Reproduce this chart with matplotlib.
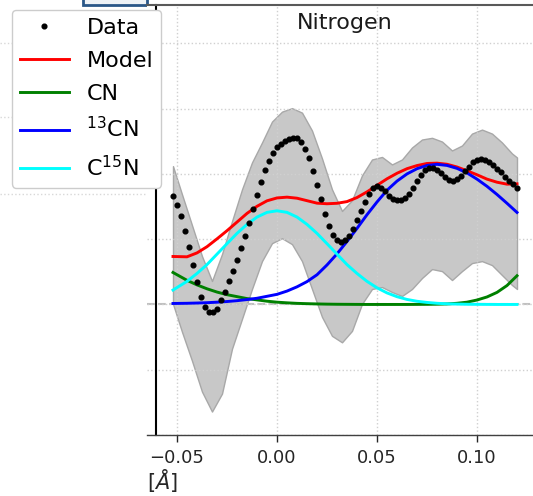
import numpy as np
import matplotlib
matplotlib.use("Agg")
import matplotlib.pyplot as plt
from matplotlib.patches import Rectangle
from matplotlib.lines import Line2D

# ---------------- data ----------------
# measured data points (regular sampling every 0.002 Å)
data_x = np.linspace(-0.052, 0.12, 87)
data_y = [1.661, 1.530, 1.356, 1.133, 0.873, 0.603, 0.348, 0.119, -0.034, -0.110,
          -0.119, -0.069, 0.064, 0.195, 0.359, 0.511, 0.684, 0.858, 1.050, 1.244,
          1.458, 1.672, 1.881, 2.058, 2.202, 2.324, 2.405, 2.461, 2.511, 2.534,
          2.557, 2.547, 2.492, 2.389, 2.237, 2.049, 1.829, 1.611, 1.392, 1.203,
          1.061, 0.980, 0.950, 0.980, 1.050, 1.163, 1.290, 1.427, 1.569, 1.698,
          1.789, 1.814, 1.789, 1.737, 1.661, 1.611, 1.595, 1.595, 1.631, 1.698,
          1.789, 1.896, 1.988, 2.058, 2.095, 2.095, 2.058, 2.008, 1.951, 1.911,
          1.896, 1.916, 1.966, 2.043, 2.110, 2.180, 2.217, 2.226, 2.217, 2.176,
          2.130, 2.079, 2.027, 1.957, 1.890, 1.840, 1.789]

# model curves
curve_x = [-0.052, -0.045, -0.040, -0.035, -0.030, -0.025, -0.020, -0.015, -0.010, -0.005,
           0.000, 0.005, 0.010, 0.015, 0.020, 0.025, 0.030, 0.035, 0.040, 0.045,
           0.050, 0.055, 0.060, 0.065, 0.070, 0.075, 0.080, 0.085, 0.090, 0.095,
           0.100, 0.105, 0.110, 0.115, 0.120]
model_y = [0.735, 0.730, 0.790, 0.885, 1.005, 1.130, 1.262, 1.395, 1.504, 1.588,
           1.632, 1.644, 1.628, 1.590, 1.552, 1.543, 1.550, 1.576, 1.638, 1.725,
           1.825, 1.925, 2.010, 2.080, 2.128, 2.160, 2.165, 2.148, 2.106, 2.048,
           1.987, 1.920, 1.873, 1.843, 1.848]
cn_y = [0.490, 0.370, 0.300, 0.240, 0.190, 0.150, 0.120, 0.090, 0.070, 0.050,
        0.035, 0.025, 0.017, 0.012, 0.008, 0.005, 0.003, 0.002, 0.001, 0.000,
        0.000, 0.000, 0.000, 0.000, 0.001, 0.002, 0.004, 0.008, 0.018, 0.035,
        0.068, 0.115, 0.185, 0.290, 0.440]
c13n_y = [0.015, 0.018, 0.022, 0.027, 0.035, 0.045, 0.058, 0.075, 0.095, 0.125,
          0.155, 0.205, 0.270, 0.350, 0.455, 0.605, 0.775, 0.965, 1.165, 1.375,
          1.570, 1.750, 1.890, 2.000, 2.080, 2.130, 2.147, 2.130, 2.085, 2.015,
          1.920, 1.810, 1.685, 1.550, 1.410]
cn15_y = [0.221, 0.354, 0.475, 0.611, 0.771, 0.931, 1.089, 1.227, 1.339, 1.411,
          1.435, 1.411, 1.339, 1.227, 1.089, 0.931, 0.771, 0.611, 0.475, 0.354,
          0.255, 0.177, 0.119, 0.077, 0.049, 0.031, 0.018, 0.010, 0.006, 0.003,
          0.002, 0.001, 0.000, 0.000, 0.000]

# uncertainty band
band_x = [-0.052, -0.0475, -0.0425, -0.0375, -0.0325, -0.0275, -0.0225, -0.0175, -0.0125, -0.0075,
          -0.0025, 0.0025, 0.0075, 0.0125, 0.0175, 0.0225, 0.0275, 0.0325, 0.0375, 0.0425,
          0.0475, 0.0525, 0.0575, 0.0625, 0.0675, 0.0725, 0.0775, 0.0825, 0.0875, 0.0925,
          0.0975, 0.1025, 0.1075, 0.1125, 0.1175, 0.12]
band_hi = [2.119, 1.687, 1.214, 0.740, 0.359, 0.771, 1.275, 1.763, 2.176, 2.481,
           2.802, 2.954, 3.008, 2.939, 2.664, 2.237, 1.763, 1.432, 1.595, 1.977,
           2.221, 2.260, 2.145, 2.221, 2.405, 2.527, 2.553, 2.496, 2.359, 2.435,
           2.618, 2.679, 2.618, 2.481, 2.313, 2.252]
band_lo = [0.008, -0.420, -0.863, -1.336, -1.641, -1.366, -0.679, -0.221, 0.237, 0.664,
           0.939, 1.015, 0.924, 0.664, 0.237, -0.191, -0.481, -0.580, -0.405, 0.008,
           0.237, 0.267, 0.191, 0.130, 0.237, 0.405, 0.542, 0.511, 0.374, 0.511,
           0.634, 0.664, 0.603, 0.450, 0.298, 0.237]

x_ticks = [-0.05, 0.00, 0.05, 0.10]
x_ticklabels = ["\u22120.05", "0.00", "0.05", "0.10"]
y_grid = [-2, -1, 0, 1, 2, 3, 4]
labels = ["Data", "Model", "CN", r"$^{13}$CN", r"C$^{15}$N"]
title = "Nitrogen"

# ---------------- figure ----------------
W, H = 533, 496
fig = plt.figure(figsize=(W / 100, H / 100), dpi=100)

ax_l, ax_r, ax_t, ax_b = 147, 534, 5, 435
ax = fig.add_axes([ax_l / W, 1 - ax_b / H, (ax_r - ax_l) / W, (ax_b - ax_t) / H])
ax.set_xlim(-0.065, 0.1285)
ax.set_ylim(-1.977, 4.588)

# background decorations from the composite screenshot
fig.add_artist(Rectangle((83 / W, 1 - 5 / H), (147 - 83) / W, 12 / H,
                         transform=fig.transFigure, facecolor="#eef2f6",
                         edgecolor="#2a5788", linewidth=2.0, zorder=0))
for yy in (42.7, 117, 194):
    fig.add_artist(Line2D([0, 150 / W], [1 - yy / H, 1 - yy / H],
                          transform=fig.transFigure, color="#d8d8d8",
                          linestyle=":", linewidth=1, zorder=0))

ax.fill_between(band_x, band_lo, band_hi, facecolor="#c8c8c8",
                edgecolor="#a8a8a8", linewidth=1.0, zorder=0.5)
ax.axhline(0, color="#c0c0c0", linestyle="--", linewidth=1.5, zorder=0.8)

h_data, = ax.plot(data_x, data_y, linestyle="none", marker="o", markersize=3.4,
                  color="black", zorder=3)
h_model, = ax.plot(curve_x, model_y, color="red", lw=2.1, zorder=2)
h_cn, = ax.plot(curve_x, cn_y, color="green", lw=2.1, zorder=2)
h_13, = ax.plot(curve_x, c13n_y, color="blue", lw=2.1, zorder=2)
h_15, = ax.plot(curve_x, cn15_y, color="cyan", lw=2.1, zorder=2)

ax.set_xticks(x_ticks)
ax.set_xticklabels(x_ticklabels)
ax.set_yticks(y_grid)
ax.tick_params(axis="y", length=0, labelleft=False)
ax.tick_params(axis="x", length=5, width=1, labelsize=13, colors="0.15", pad=5)
ax.grid(True, linestyle=":", color="#d0d0d0", linewidth=1)
ax.set_axisbelow("line")

ax.spines["right"].set_visible(False)
ax.spines["left"].set_position(("data", -0.0605))
ax.spines["left"].set_color("black")
ax.spines["left"].set_linewidth(1.5)
ax.spines["top"].set_color("0.35")
ax.spines["top"].set_linewidth(1.5)
ax.spines["bottom"].set_color("0.25")
ax.spines["bottom"].set_linewidth(1.0)

ax.set_xlabel(r"$[Å]$", fontsize=15, loc="left", labelpad=0, color="0.15")

ax.text((345 - ax_l) / (ax_r - ax_l), (ax_b - 23) / (ax_b - ax_t), title,
        transform=ax.transAxes, ha="center", va="center", fontsize=16, color="0.1")

leg = fig.legend([h_data, h_model, h_cn, h_13, h_15], labels,
                 loc="upper left", bbox_to_anchor=(12 / W, 1 - 10 / H),
                 bbox_transform=fig.transFigure, borderaxespad=0,
                 fontsize=16, handlelength=2.2, handletextpad=0.8,
                 labelspacing=0.58, borderpad=0.35, numpoints=1,
                 fancybox=True, framealpha=1.0, edgecolor="0.8")
leg.set_zorder(10)

fig.savefig("out.png", dpi=100)
